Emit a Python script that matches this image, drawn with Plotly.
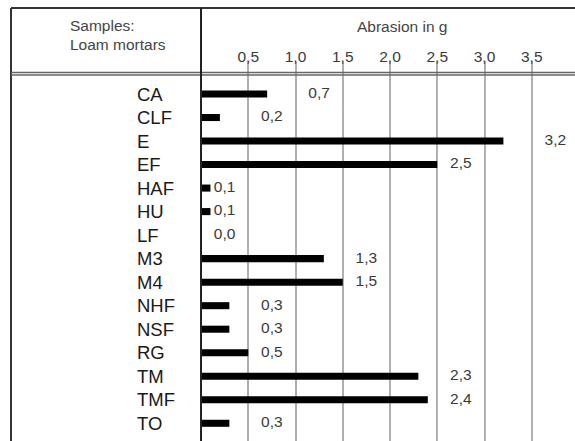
import math
import plotly.graph_objects as go

# ---- data ----
samples = ["CA", "CLF", "E", "EF", "HAF", "HU", "LF", "M3", "M4",
           "NHF", "NSF", "RG", "TM", "TMF", "TO"]
abrasion_g = [0.7, 0.2, 3.2, 2.5, 0.1, 0.1, 0.0, 1.3, 1.5,
              0.3, 0.3, 0.5, 2.3, 2.4, 0.3]
tick_values = [0.5, 1.0, 1.5, 2.0, 2.5, 3.0, 3.5]
header_left = ["Samples:", "Loam mortars"]
header_axis = "Abrasion in g"

# ---- geometry helpers (figure pixels -> paper coords) ----
W, H = 575, 441
L, T = 201, 62
PW, PH = W - L, H - T


def px(x):
    return (x - L) / PW


def py(y):
    return (H - y) / PH


# label placed in the grid cell following the bar end
def label_pos(v):
    return math.ceil(round((v - 0.1) / 0.5, 6)) * 0.5 + 0.25


FONT = "Liberation Sans, Arial, Helvetica, sans-serif"

fig = go.Figure()
fig.add_trace(go.Bar(
    x=abrasion_g, y=samples, orientation="h",
    marker=dict(color="#000000", line=dict(width=0)),
    hoverinfo="skip",
))
fig.add_trace(go.Scatter(
    x=[label_pos(v) for v in abrasion_g], y=samples, mode="text",
    text=[f"{v:.1f}".replace(".", ",") for v in abrasion_g],
    textposition="middle center",
    textfont=dict(family=FONT, size=15.5, color="#3a3a3a"),
    hoverinfo="skip", cliponaxis=False,
))

x_max = PW / 94.5
row_px = 23.52
r0 = -(94 - T) / row_px
r1 = r0 + PH / row_px

fig.update_layout(
    width=W, height=H,
    margin=dict(l=L, r=0, t=T, b=0, pad=0),
    paper_bgcolor="white", plot_bgcolor="white",
    showlegend=False, bargap=0.7,
    separators=", ",
    font=dict(family=FONT, color="#444444"),
    xaxis=dict(
        range=[0, x_max], side="top", tickvals=tick_values,
        tickformat=".1f", showgrid=True, gridcolor="#b0b0b0", gridwidth=1.5,
        zeroline=False, showline=False, ticks="", ticklabelstandoff=-4,
        tickfont=dict(family=FONT, size=15.5, color="#3a3a3a"),
        fixedrange=True,
    ),
    yaxis=dict(
        type="category", categoryorder="array", categoryarray=samples,
        range=[r1, r0], showticklabels=False, showgrid=False,
        zeroline=False, showline=False, fixedrange=True,
    ),
)

# category labels (left aligned)
for s in samples:
    fig.add_annotation(
        x=px(135), xref="paper", y=s, yref="y", text=s, showarrow=False,
        xanchor="left", yanchor="middle",
        font=dict(family=FONT, size=18.5, color="#1a1a1a"),
    )

# header texts
fig.add_annotation(x=px(68), y=py(25.5), xref="paper", yref="paper",
                   text=header_left[0], showarrow=False, xanchor="left",
                   yanchor="middle", font=dict(family=FONT, size=15.5, color="#444444"))
fig.add_annotation(x=px(68), y=py(44.5), xref="paper", yref="paper",
                   text=header_left[1], showarrow=False, xanchor="left",
                   yanchor="middle", font=dict(family=FONT, size=15.5, color="#444444"))
fig.add_annotation(x=px(402), y=py(26), xref="paper", yref="paper",
                   text=header_axis, showarrow=False, xanchor="center",
                   yanchor="middle", font=dict(family=FONT, size=15.5, color="#444444"))

# table frame
line_dark = dict(color="#333333", width=2)
fig.add_shape(type="line", xref="paper", yref="paper",
              x0=px(11), x1=px(W + 5), y0=py(8), y1=py(8), line=line_dark)
fig.add_shape(type="line", xref="paper", yref="paper",
              x0=px(11), x1=px(11), y0=py(8), y1=py(H + 5), line=line_dark)
for yy in (72.5, 75):
    fig.add_shape(type="line", xref="paper", yref="paper",
                  x0=px(11), x1=px(W + 5), y0=py(yy), y1=py(yy),
                  line=dict(color="#666666", width=1.3))
fig.add_shape(type="line", xref="paper", yref="paper",
              x0=px(201), x1=px(201), y0=py(8), y1=py(H + 5),
              line=dict(color="#222222", width=2))

fig.write_html(
    "out.html",
    config={"displayModeBar": False},
    post_script="document.body.style.margin='0';document.body.style.overflow='hidden';",
)
